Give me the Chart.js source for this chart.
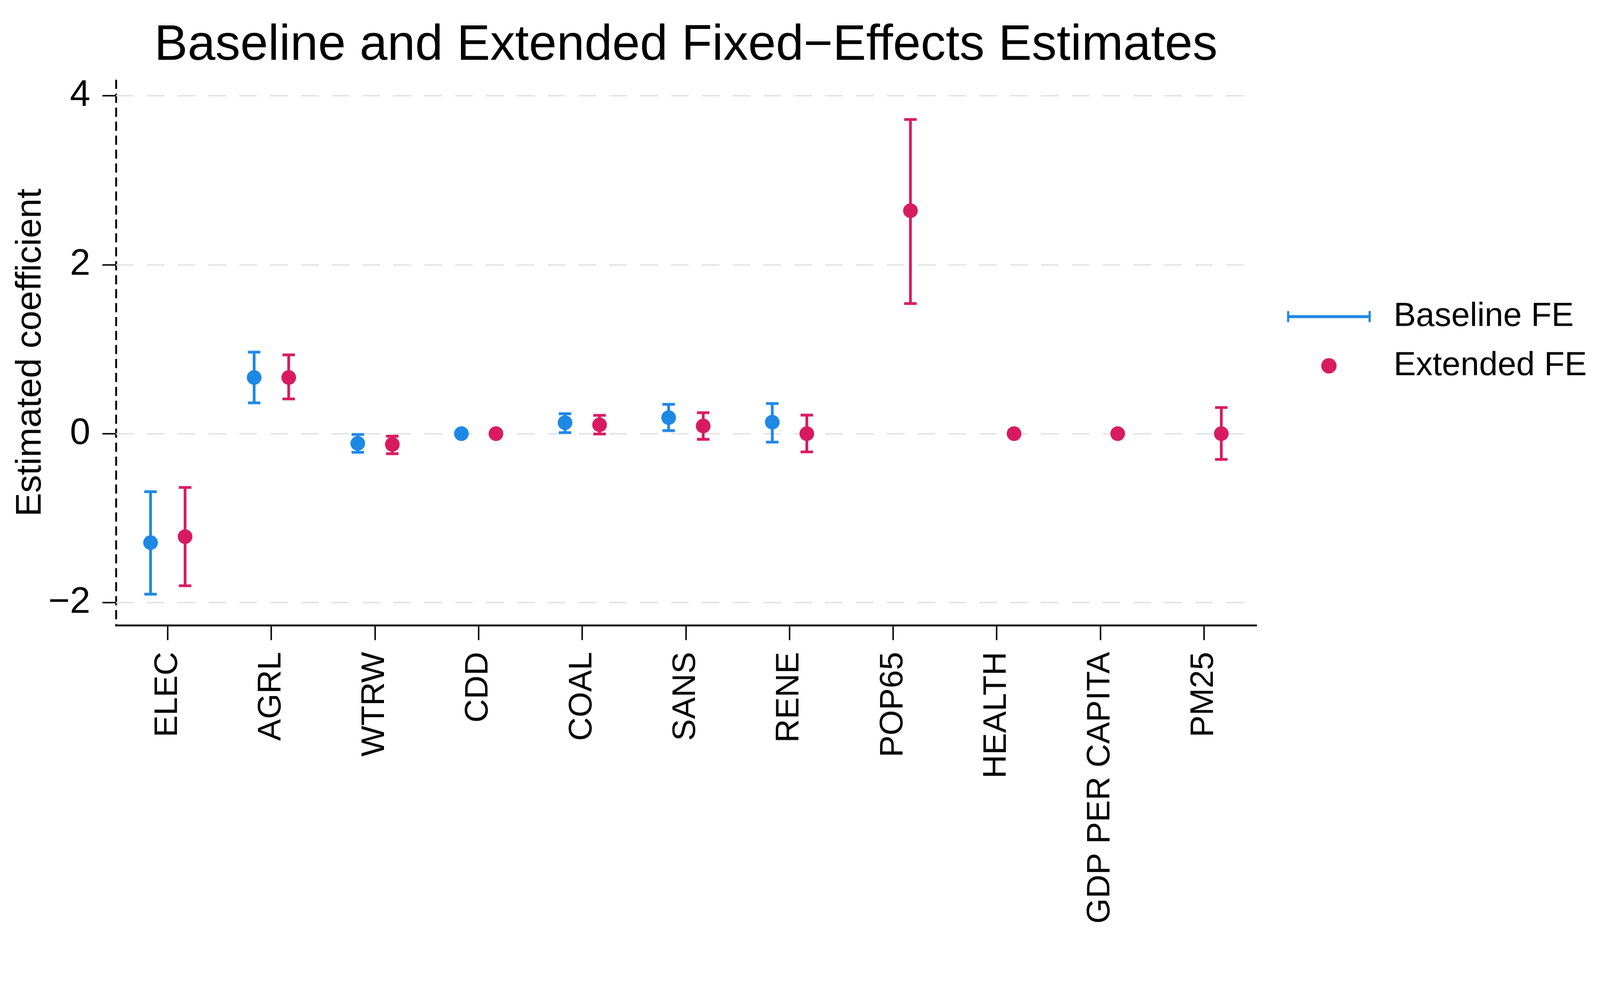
<!DOCTYPE html>
<html>
<head>
<meta charset="utf-8">
<script src="https://cdn.jsdelivr.net/npm/chart.js@4"></script>
<style>
  html, body { margin: 0; padding: 0; background: #fff; overflow: hidden; width: 100%; height: 100%; }
  #frame { position: fixed; left: 0; top: 0; width: 100vw; height: 100vh; overflow: hidden; }
  #wrap { width: 4359px; height: 2570px; transform-origin: 0 0; }
  canvas { display: block; }
</style>
</head>
<body>
<div id="frame"><div id="wrap"><canvas id="chart" width="4359" height="2570"></canvas></div></div>
<script>
// variables on the x axis
const categories = ['ELEC', 'AGRL', 'WTRW', 'CDD', 'COAL', 'SANS', 'RENE', 'POP65', 'HEALTH', 'GDP PER CAPITA', 'PM25'];

// baseline FE: estimate and 95% CI (null = not in model / no visible bar)
const baselineEst  = [-1.29, 0.665, -0.115, 0.0, 0.13, 0.19, 0.136, null, null, null, null];
const baselineLow  = [-1.90, 0.365, -0.22, null, 0.012, 0.036, -0.10, null, null, null, null];
const baselineHigh = [-0.687, 0.965, -0.01, null, 0.236, 0.348, 0.357, null, null, null, null];

// extended FE
const extendedEst  = [-1.219, 0.665, -0.127, 0.0, 0.105, 0.091, 0.0, 2.64, 0.0, 0.0, 0.0];
const extendedLow  = [-1.80, 0.411, -0.237, null, -0.004, -0.067, -0.216, 1.54, null, null, -0.305];
const extendedHigh = [-0.637, 0.933, -0.03, null, 0.217, 0.248, 0.22, 3.72, null, null, 0.31];

const yTicks = [-2, 0, 2, 4];

const BLUE = '#1E88E5';
const RED = '#D81B60';
const FONT = '"Liberation Sans", Arial, Helvetica, sans-serif';

// the layout below is in 4359x2570 units; shrink the page to whatever the viewport really is
const fit = window.innerWidth / 4359;
document.getElementById('wrap').style.transform = 'scale(' + fit + ')';

function buildPoints(est, lo, hi, shift) {
    const pts = [];
    for (let i = 0; i < est.length; i++) {
        if (est[i] === null) continue;
        pts.push({ x: i + shift, y: est[i], lo: lo[i], hi: hi[i] });
    }
    return pts;
}

// rotated x labels look condensed in the original; use the narrow face if it's there
function pickLabelFont() {
    const c = document.createElement('canvas').getContext('2d');
    const probe = 'GDP PER CAPITA';
    c.font = '100px "Liberation Sans Narrow", monospace';
    const wn = c.measureText(probe).width;
    c.font = '100px monospace';
    const wm = c.measureText(probe).width;
    if (Math.abs(wn - wm) > 1) {
        return { family: '"Liberation Sans Narrow", ' + FONT, size: Math.round(100 * 740 / wn) };
    }
    c.font = '100px ' + FONT;
    return { family: FONT, size: Math.round(100 * 740 / c.measureText(probe).width) };
}
const labelFont = pickLabelFont();

function legendIcon(kind, color) {
    const c = document.createElement('canvas');
    c.width = 287;
    c.height = 90;
    const g = c.getContext('2d');
    const cx = 156, cy = 45;
    g.strokeStyle = color;
    g.fillStyle = color;
    if (kind === 'bar') {
        g.lineWidth = 8;
        g.beginPath();
        g.moveTo(cx - 111, cy); g.lineTo(cx + 111, cy);
        g.stroke();
        g.lineWidth = 6;
        g.beginPath();
        g.moveTo(cx - 111, cy - 15); g.lineTo(cx - 111, cy + 15);
        g.moveTo(cx + 111, cy - 15); g.lineTo(cx + 111, cy + 15);
        g.stroke();
    } else {
        g.beginPath();
        g.arc(cx, cy, 21, 0, Math.PI * 2);
        g.fill();
    }
    return c;
}
const legendIcons = [legendIcon('bar', BLUE), legendIcon('dot', RED)];

const errorBars = {
    id: 'errorBars',
    beforeDatasetsDraw(chart) {
        const { ctx, scales: { x, y } } = chart;
        chart.data.datasets.forEach(ds => {
            ds.data.forEach(p => {
                if (p.lo === null || p.hi === null) return;
                const px = x.getPixelForValue(p.x);
                const top = y.getPixelForValue(p.hi);
                const bot = y.getPixelForValue(p.lo);
                ctx.save();
                ctx.strokeStyle = ds.backgroundColor;
                ctx.lineWidth = 7.5;
                ctx.beginPath();
                ctx.moveTo(px, top); ctx.lineTo(px, bot);
                ctx.moveTo(px - 17, top); ctx.lineTo(px + 17, top);
                ctx.moveTo(px - 17, bot); ctx.lineTo(px + 17, bot);
                ctx.stroke();
                ctx.restore();
            });
        });
    }
};

// nudge the legend up a little, it sits above the plot centre in the original
const legendNudge = {
    id: 'legendNudge',
    afterLayout(chart) {
        if (chart.legend) {
            chart.legend.top -= 31;
            chart.legend.bottom -= 31;
        }
    }
};

const ctx = document.getElementById('chart').getContext('2d');

new Chart(ctx, {
    type: 'scatter',
    data: {
        datasets: [
            {
                label: 'Baseline FE',
                data: buildPoints(baselineEst, baselineLow, baselineHigh, -1 / 6),
                backgroundColor: BLUE,
                borderColor: BLUE,
                pointRadius: 20,
                pointBorderWidth: 0
            },
            {
                label: 'Extended FE',
                data: buildPoints(extendedEst, extendedLow, extendedHigh, 1 / 6),
                backgroundColor: RED,
                borderColor: RED,
                pointRadius: 20,
                pointBorderWidth: 0
            }
        ]
    },
    options: {
        responsive: false,
        animation: false,
        devicePixelRatio: fit * (window.devicePixelRatio || 1),
        layout: { padding: { left: 0, top: 0, right: 26, bottom: 0 } },
        plugins: {
            tooltip: { enabled: false },
            title: {
                display: true,
                text: 'Baseline and Extended Fixed\u2212Effects Estimates',
                fullSize: false,
                color: '#000',
                font: { family: FONT, size: 136, weight: 'normal' },
                padding: { top: 44, bottom: 10 }
            },
            legend: {
                position: 'right',
                fullSize: false,
                align: 'center',
                labels: {
                    usePointStyle: true,
                    pointStyleWidth: 287,
                    padding: 43,
                    color: '#000',
                    font: { family: FONT, size: 91 },
                    generateLabels(chart) {
                        const items = Chart.defaults.plugins.legend.labels.generateLabels(chart);
                        items.forEach((it, i) => { it.pointStyle = legendIcons[i]; it.rotation = 0; });
                        return items;
                    }
                }
            }
        },
        scales: {
            x: {
                type: 'linear',
                min: -0.5,
                max: 10.5,
                afterBuildTicks(axis) {
                    const t = [{ value: -0.5 }];
                    categories.forEach((c, i) => t.push({ value: i }));
                    t.push({ value: 10.5 });
                    axis.ticks = t;
                },
                afterFit(axis) {
                    axis.height = 867;
                    axis.paddingLeft = 0;
                    axis.paddingRight = 0;
                },
                ticks: {
                    autoSkip: false,
                    maxRotation: 90,
                    minRotation: 90,
                    padding: 32,
                    color: '#000',
                    font: { family: labelFont.family, size: labelFont.size },
                    callback: v => Number.isInteger(v) ? categories[v] : ''
                },
                grid: {
                    // the only visible grid line is the dashed y-axis at the left edge
                    drawOnChartArea: true,
                    color: c => (c.tick && c.tick.value === -0.5) ? '#000' : 'rgba(0,0,0,0)',
                    lineWidth: 5,
                    tickColor: c => (c.tick && Number.isInteger(c.tick.value)) ? '#000' : 'rgba(0,0,0,0)',
                    tickLength: 40,
                    tickWidth: 4
                },
                border: { display: true, color: '#000', width: 5, dash: [25, 13] }
            },
            y: {
                min: -2.27,
                max: 4.19,
                afterBuildTicks(axis) {
                    axis.ticks = yTicks.map(v => ({ value: v }));
                },
                afterFit(axis) {
                    axis.width = 316;
                    axis.paddingTop = 0;
                    axis.paddingBottom = 0;
                },
                title: {
                    display: true,
                    text: 'Estimated coefficient',
                    color: '#000',
                    font: { family: FONT, size: 97 },
                    padding: { top: 26, bottom: 0 }
                },
                ticks: {
                    padding: 33,
                    color: '#000',
                    font: { family: FONT, size: 100 },
                    callback: v => String(v).replace('-', '\u2212')
                },
                grid: {
                    color: '#e2e2e2',
                    lineWidth: 4,
                    tickColor: '#000',
                    tickLength: 37,
                    tickWidth: 4
                },
                border: { display: false, dash: [48, 36] }
            }
        }
    },
    plugins: [errorBars, legendNudge]
});
</script>
</body>
</html>
